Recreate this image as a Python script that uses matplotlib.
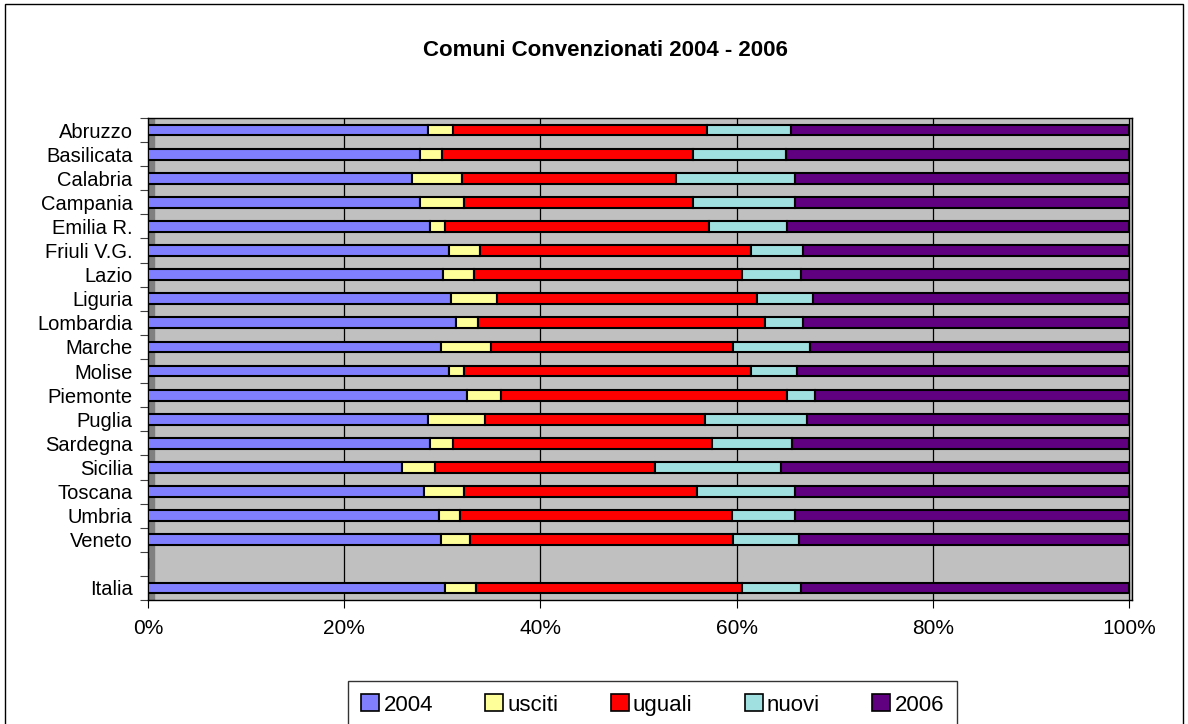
import matplotlib.pyplot as plt
from matplotlib.patches import Patch, Rectangle

# categories, top to bottom (blank slot between Veneto and Italia)
regioni = ['Abruzzo', 'Basilicata', 'Calabria', 'Campania', 'Emilia R.', 'Friuli V.G.',
           'Lazio', 'Liguria', 'Lombardia', 'Marche', 'Molise', 'Piemonte', 'Puglia',
           'Sardegna', 'Sicilia', 'Toscana', 'Umbria', 'Veneto', '', 'Italia']

# shares in %, blank slot = 0
v2004   = [28.5, 27.7, 26.9, 27.7, 28.7, 30.7, 30.1, 30.9, 31.4, 29.9, 30.7, 32.5, 28.5,
           28.7, 25.9, 28.1, 29.7, 29.9, 0, 30.3]
usciti  = [2.6, 2.3, 5.1, 4.5, 1.6, 3.1, 3.1, 4.7, 2.2, 5.1, 1.5, 3.5, 5.9,
           2.4, 3.4, 4.1, 2.1, 2.9, 0, 3.1]
uguali  = [25.9, 25.6, 21.8, 23.4, 26.9, 27.7, 27.3, 26.5, 29.3, 24.6, 29.3, 29.1, 22.4,
           26.4, 22.4, 23.8, 27.7, 26.8, 0, 27.1]
nuovi   = [8.5, 9.4, 12.2, 10.4, 7.9, 5.3, 6.1, 5.7, 3.9, 7.9, 4.7, 2.9, 10.4,
           8.1, 12.8, 10.0, 6.5, 6.8, 0, 6.1]
v2006   = [34.5, 35.0, 34.0, 34.0, 34.9, 33.2, 33.4, 32.2, 33.2, 32.5, 33.8, 32.0, 32.8,
           34.4, 35.5, 34.0, 34.0, 33.6, 0, 33.4]

serie = ['2004', 'usciti', 'uguali', 'nuovi', '2006']
valori = [v2004, usciti, uguali, nuovi, v2006]
colori = ['#8080FF', '#FFFF99', '#FF0000', '#A0E0E0', '#600080']

plt.rcParams['font.family'] = ['Liberation Sans', 'DejaVu Sans']

fig = plt.figure(figsize=(11.88, 7.24), dpi=100)
fig.patches.append(Rectangle((0.004, -0.1), 0.992, 1.094, transform=fig.transFigure,
                             fill=False, edgecolor='black', linewidth=1))

ax = fig.add_axes([148 / 1188, 1 - 600 / 724, 984 / 1188, 482 / 724])
ax.set_facecolor('#C0C0C0')

pos = list(range(len(regioni)))
# normalise each row to 100 %
totali = [sum(col) for col in zip(*valori)]
left = [0.0] * len(regioni)
for nome, vals, col in zip(serie, valori, colori):
    w = [v / t * 100 if t else 0 for v, t in zip(vals, totali)]
    ax.barh(pos, w, left=left, height=0.45, color=col, edgecolor='black',
            linewidth=1.5, label=nome, zorder=3)
    left = [a + b for a, b in zip(left, w)]

# left wall of the 3d look
ax.axvspan(0, 0.6, color='#808080', zorder=1)

ax.set_xlim(0, 100.3)
ax.set_ylim(19.5, -0.5)
ax.set_xticks(range(0, 101, 20))
ax.set_xticklabels([f'{t}%' for t in range(0, 101, 20)], fontsize=15)
ax.xaxis.grid(True, color='black', linewidth=0.9, zorder=2)
ax.set_axisbelow(True)
ax.set_yticks(pos)
ax.set_yticklabels(regioni, fontsize=14.5)
ax.set_yticks([p + 0.5 for p in range(-1, len(regioni))], minor=True)
ax.tick_params(axis='y', which='major', length=0, pad=11)
ax.tick_params(axis='y', which='minor', length=6, width=0.8, color='#404040')
ax.tick_params(axis='x', length=6, width=0.8, pad=8)
for s in ax.spines.values():
    s.set_color('black')
    s.set_linewidth(1)

fig.text(605 / 1188, 1 - 50 / 724, 'Comuni Convenzionati 2004 - 2006',
         ha='center', va='center', fontsize=16, fontweight='bold')

handles = [Patch(facecolor=c, edgecolor='black', linewidth=1.2) for c in colori]
leg = fig.legend(handles, serie, loc='upper left', ncol=5,
                 bbox_to_anchor=(348 / 1188, 1 - 681 / 724), fontsize=16,
                 frameon=True, fancybox=False, edgecolor='black',
                 handlelength=0.8, handleheight=0.8, handletextpad=0.2,
                 columnspacing=2.35, borderpad=0.6, borderaxespad=0)
leg.get_frame().set_linewidth(1)

fig.savefig('out.png', dpi=100)
